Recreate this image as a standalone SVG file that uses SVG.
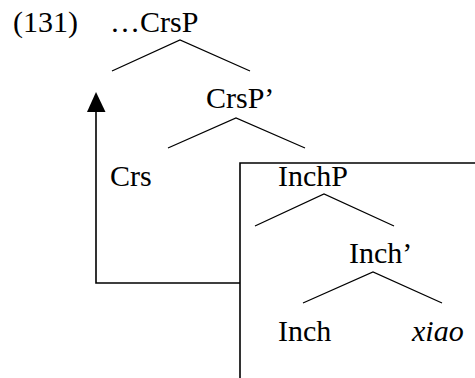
<svg xmlns="http://www.w3.org/2000/svg" width="475" height="378" viewBox="0 0 475 378">
<style>
text{font-family:"Liberation Serif","Times New Roman",serif;font-size:30px;fill:#000}
.br{stroke:#000;stroke-width:1.3;fill:none}
.ar{stroke:#000;stroke-width:1.6;fill:none}
</style>
<rect width="475" height="378" fill="#fff"/>
<g id="label"><text x="13" y="32">(131)</text></g>
<g id="CrsP"><text x="110" y="32">…CrsP</text></g>
<g id="CrsPbar"><text x="206" y="108">CrsP’</text></g>
<g id="Crs"><text x="110" y="186">Crs</text></g>
<g id="InchP"><text x="278" y="186">InchP</text></g>
<g id="Inchbar"><text x="349" y="263">Inch’</text></g>
<g id="Inch"><text x="278" y="341">Inch</text></g>
<g id="xiao"><text x="412" y="341" font-style="italic">xiao</text></g>
<g id="connectors">
<polyline class="br" points="112,71 180,40 250,71"/>
<polyline class="br" points="168,148 236,118 305,148"/>
<polyline class="br" points="255,226 324,194 394,226"/>
<polyline class="br" points="303,303 373,272 442,303"/>
<polyline class="ar" points="475,163 240,163 240,378"/>
<polyline class="ar" points="240,283 96,283 96,110"/>
<polygon points="96,92 87,112 105.5,112" fill="#000"/>
</g>
</svg>
